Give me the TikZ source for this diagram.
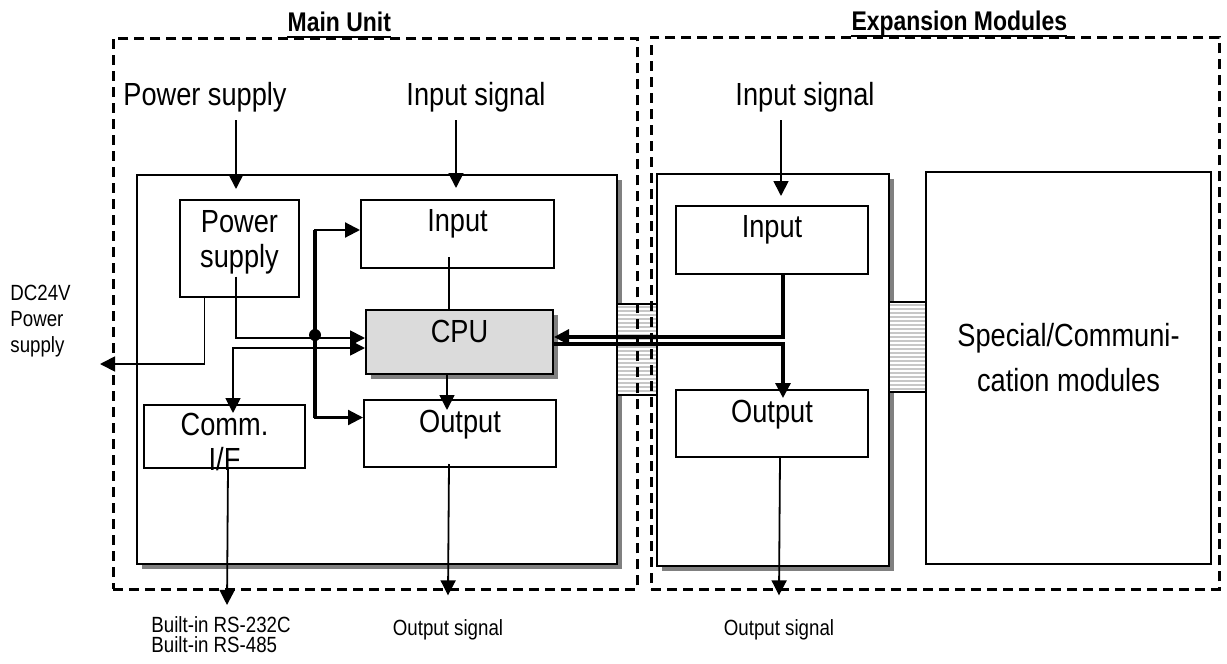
\documentclass[tikz,border=0pt]{standalone}
\usepackage{fontspec}
\setmainfont{Liberation Sans}[FakeStretch=0.85]
\usetikzlibrary{arrows.meta, positioning, shadows}
\tikzstyle{dashbox} = [rectangle, draw, dash pattern=on 5pt off 3pt, line width=1.3pt, inner sep=0pt, anchor=north west]
\tikzstyle{block} = [rectangle, draw=black, line width=1pt, fill=white, inner sep=0pt, anchor=north west]
\tikzstyle{unit} = [block, drop shadow={shadow xshift=2.5pt, shadow yshift=-2.5pt, fill=black!50, opacity=1}]
\tikzstyle{plug} = [block, path picture={\foreach \k in {1,...,23} {\draw[line width=1pt, draw=black!22] ([yshift=-\k*2pt+0.5pt]path picture bounding box.north west) -- ([yshift=-\k*2pt+0.5pt]path picture bounding box.north east);}}]
\tikzstyle{txt} = [font=\fontsize{16}{17.5}\selectfont, inner sep=0pt, align=center]
\tikzstyle{lbl} = [txt, inner sep=4pt]
\tikzstyle{small} = [font=\fontsize{11}{13}\selectfont, inner sep=0pt, align=left]
\tikzstyle{title} = [font=\bfseries\fontsize{13.5}{15}\selectfont, inner sep=0pt]
\tikzstyle{arrow} = [line width=0.9pt, -{Triangle[length=7.5pt, width=7.5pt]}]
\tikzstyle{biarrow} = [line width=0.9pt, {Triangle[length=7.5pt, width=7.5pt]}-{Triangle[length=7.5pt, width=7.5pt]}]
\tikzstyle{link} = [line width=0.9pt]
\tikzstyle{bus} = [line width=2.2pt]

\begin{document}
\begin{tikzpicture}[x=0.5pt, y=-0.5pt]
\useasboundingbox (0,0) rectangle (1227,664);

% units
\node (mainbox) [unit, minimum width=240pt, minimum height=194.5pt] at (136,174) {};
\node (expbox) [unit, minimum width=116pt, minimum height=196pt] at (656,173) {};
\node (specbox) [block, minimum width=142.5pt, minimum height=196pt] at (925,171) {};
\node [txt, font=\fontsize{16}{22.5}\selectfont] at ([yshift=5pt]specbox.center) {Special/Communi-\\cation modules};

% connectors
\node (plugA) [plug, minimum width=20pt, minimum height=45.5pt] at (616,303) {};
\node (plugB) [plug, minimum width=18.5pt, minimum height=45pt] at (888,301) {};

% main unit blocks
\node (psbox) [block, minimum width=59.5pt, minimum height=48.5pt] at (179,199) {};
\node [txt, below=5.5pt of psbox.north] {Power\\supply};
\node (inbox) [block, minimum width=96.5pt, minimum height=34pt] at (360,199) {};
\node [txt, below=5pt of inbox.north] {Input};
\node (cpu) [block, fill=black!14, minimum width=93.5pt, minimum height=32pt,
  drop shadow={shadow xshift=2.5pt, shadow yshift=-2.5pt, fill=black!50, opacity=1}] at (365,309) {};
\node [txt, below=5.5pt of cpu.north] {CPU};
\node (outbox) [block, minimum width=96pt, minimum height=33.5pt] at (363,399) {};
\node [txt, below=5.5pt of outbox.north] {Output};
\node (commbox) [block, minimum width=80.5pt, minimum height=31.5pt] at (143,404) {};
\begin{scope}
  \clip (commbox.north west) rectangle ([yshift=-2.5pt]commbox.south east);
  \node [txt, below=4.5pt of commbox.north] {Comm.\\I/F};
\end{scope}

% expansion blocks
\node (xinbox) [block, minimum width=96pt, minimum height=34pt] at (675,205) {};
\node [txt, below=5pt of xinbox.north] {Input};
\node (xoutbox) [block, minimum width=96pt, minimum height=33.5pt] at (675,389) {};
\node [txt, below=5.5pt of xoutbox.north] {Output};

% outside labels
\node (pslbl) [lbl] at (205,97) {Power supply};
\node (inlbl) [lbl] at (476,97) {Input signal};
\node (xinlbl) [lbl] at (805,97) {Input signal};
\node (dclbl) [small, anchor=west] at (10,321) {DC24V\\Power\\supply};
\node (rslbl) [small, anchor=north west, font=\fontsize{11}{10}\selectfont] at (151,616) {Built-in RS-232C\\Built-in RS-485};
\node (outlbl) [small] at (448,630) {Output signal};
\node (xoutlbl) [small] at (779,630) {Output signal};

\coordinate (pstip) at (236,189);
\coordinate (intip) at (456,188);
\coordinate (xintip) at (781,196);
\coordinate (dctip) at (100,364);
\coordinate (rstip) at (227,605);

% signals
\draw[arrow] (pslbl.south -| pstip) -- (pstip);
\draw[arrow] (inlbl.south -| intip) -- (intip);
\draw[arrow] (xinlbl.south -| xintip) -- (xintip);
\draw[arrow] ([xshift=-17.5pt]psbox.south) |- (dctip);
\draw[arrow] ([xshift=-1.75pt,yshift=-14pt]psbox.center) |- ([yshift=2pt]cpu.west);
\draw[biarrow] ([yshift=-3pt]cpu.west) -| ([xshift=4.25pt,yshift=-4.5pt]commbox.north);
\draw[link] ([xshift=-4.25pt,yshift=-11.5pt]inbox.center) -- ([xshift=-5.25pt]cpu.north);
\draw[arrow] ([xshift=-6.25pt]cpu.south) -- ([xshift=-6.5pt,yshift=-5.5pt]outbox.north);
\draw[arrow] ([xshift=-5.5pt,yshift=2pt]outbox.south) -- ([yshift=12pt]outlbl.north);
\draw[arrow] ([xshift=1.75pt,yshift=1pt]commbox.south) -- (rstip);

% bus
\node (dot) [circle, fill, inner sep=0pt, minimum size=6pt] at (315,335) {};
\draw[arrow, line width=1.1pt] (dot) |- ([yshift=2pt]inbox.west);
\draw[arrow, line width=1.1pt] (dot) |- ([yshift=8pt]outbox.west);
\draw[bus] ([yshift=2pt]inbox.west -| dot) -- ([yshift=8pt]outbox.west -| dot);

% cpu <-> expansion
\draw[arrow, line width=1.6pt] ([xshift=5.5pt]xinbox.south) |- ([yshift=2.5pt]cpu.east);
\draw[arrow, line width=1.6pt] ([yshift=-1pt]cpu.east) -| ([xshift=5.5pt,yshift=-4.5pt]xoutbox.north);
\draw[arrow] ([xshift=4pt]xoutbox.south) -- ([yshift=12pt]xoutlbl.north);

% frames
\node (mainunit) [dashbox, minimum width=262pt, minimum height=275.5pt] at (112,37) {};
\node (expunit) [dashbox, minimum width=284pt, minimum height=276pt] at (650,36) {};
\node (mainttl) [title, anchor=base] at ([xshift=-18pt,yshift=2.5pt]mainunit.north) {Main Unit};
\node (expttl) [title, anchor=base] at ([xshift=12pt,yshift=2.5pt]expunit.north) {Expansion Modules};
\draw[line width=1pt] (mainttl.west |- mainunit.north) -- (mainttl.east |- mainunit.north);
\draw[line width=1pt] (expttl.west |- expunit.north) -- (expttl.east |- expunit.north);
\end{tikzpicture}
\end{document}
